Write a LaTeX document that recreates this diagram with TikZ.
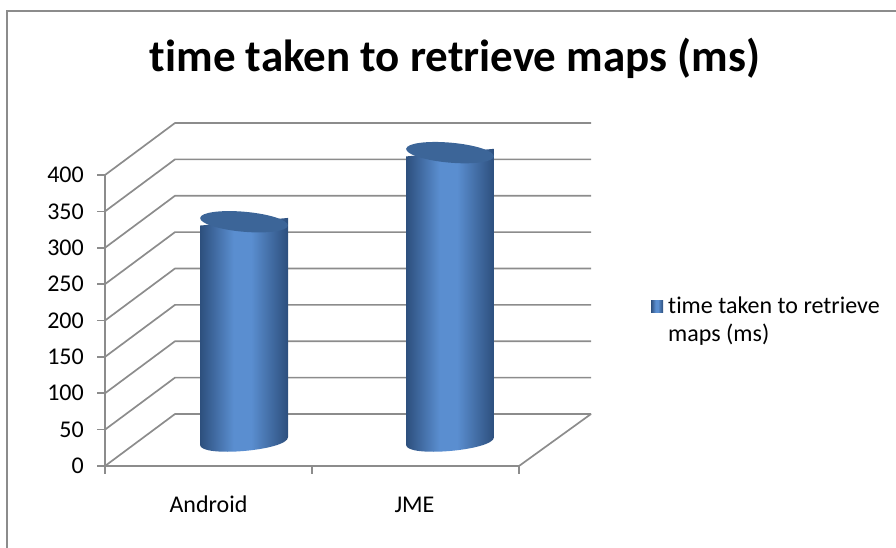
\documentclass[tikz,border=0pt]{standalone}
\usepackage{fontspec}
\setmainfont[Ligatures=NoCommon]{Carlito}
\definecolor{gridgray}{HTML}{8C8C8C}
\definecolor{bardark}{HTML}{2D4F7D}
\definecolor{barlight}{HTML}{5A8ED0}
\definecolor{bartop}{HTML}{3C6598}
\pgfdeclarehorizontalshading{barshade}{100bp}{color(0bp)=(bardark); color(25bp)=(bardark); color(44bp)=(barlight); color(54bp)=(barlight); color(75bp)=(bardark); color(100bp)=(bardark)}

\begin{document}
\begin{tikzpicture}[x=1pt,y=-1pt]
\tikzset{grid/.style={gridgray, line width=1.7pt},
         lbl/.style={font=\fontsize{24}{28}\selectfont, inner sep=0pt}}
\useasboundingbox (0,0) rectangle (896,548);
\draw[gridgray, line width=1.5pt] (7,560) -- (7,11) -- (910,11);

\node[font=\fontsize{45}{50}\selectfont\bfseries, anchor=base] (title) at (455,72) {time taken to retrieve maps (ms)};

% walls and value axis
\foreach \v [count=\i from 0] in {0,50,...,400}{
  \pgfmathsetmacro\yf{466-\v*0.7275}
  \draw[grid] (105,\yf) -- (175,\yf-52) -- (591,\yf-52);
  \draw[grid] (97,\yf) -- (105,\yf);
  \node[lbl, anchor=east] (y\i) at (84,\yf) {\v};
}
\draw[grid] (105,175) -- (105,466) -- (519,466) -- (591,414);
\foreach \x in {105,312,519} \draw[grid] (\x,466) -- (\x,474);

% cylinders
\foreach \cx/\val/\name in {244/300/Android, 450/395/JME}{
  \pgfmathsetmacro\yt{440-\val*0.7275}
  \shade[shading=barshade] (\cx-44,\yt+3.8) -- (\cx-44,444.8)
     .. controls (\cx-44,458.1) and (\cx+44,450.5) .. (\cx+44,437.2) -- (\cx+44,\yt-3.8) -- cycle;
  \fill[bartop, rotate around={-5:(\cx,\yt)}] (\cx,\yt) ellipse[x radius=44, y radius=10];
  \node[lbl, anchor=base] (cat-\name) at (\cx-35.5,512) {\name};
}

% legend
\shade[shading=barshade] (651,300) rectangle (663,312);
\node[lbl, anchor=base west] (leg1) at (668,313) {time taken to retrieve};
\node[lbl, anchor=base west] (leg2) at (668,341) {maps (ms)};
\end{tikzpicture}
\end{document}
